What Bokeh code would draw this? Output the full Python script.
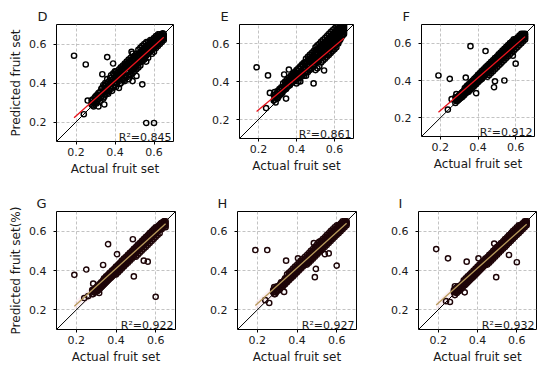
from bokeh.plotting import figure
from bokeh.layouts import row, column
from bokeh.models import Range1d, FixedTicker, Label, ColumnDataSource
from bokeh.embed import file_html
from bokeh.resources import INLINE

# ---------------- data ----------------
# actual fruit set (shared by all six panels)
actual = [
    0.28, 0.28, 0.29, 0.29, 0.30, 0.30, 0.31, 0.31, 0.32, 0.32, 0.33, 0.33,
    0.34, 0.34, 0.34, 0.35, 0.35, 0.35, 0.36, 0.36, 0.36, 0.37, 0.37, 0.37, 0.38, 0.38, 0.38, 0.39, 0.39, 0.39,
    0.40, 0.40, 0.40, 0.41, 0.41, 0.41, 0.42, 0.42, 0.42, 0.43, 0.43, 0.43, 0.44, 0.44, 0.44,
    0.45, 0.45, 0.45, 0.45, 0.46, 0.46, 0.46, 0.46, 0.47, 0.47, 0.47, 0.47, 0.48, 0.48, 0.48, 0.48,
    0.49, 0.49, 0.49, 0.49, 0.50, 0.50, 0.50, 0.50, 0.51, 0.51, 0.51, 0.51, 0.52, 0.52, 0.52, 0.52,
    0.53, 0.53, 0.53, 0.53, 0.54, 0.54, 0.54, 0.54, 0.55, 0.55, 0.55, 0.55, 0.56, 0.56, 0.56, 0.56,
    0.57, 0.57, 0.57, 0.57, 0.58, 0.58, 0.58, 0.58, 0.59, 0.59, 0.59, 0.59, 0.60, 0.60, 0.60, 0.60,
    0.61, 0.61, 0.61, 0.61, 0.62, 0.62, 0.62, 0.62, 0.63, 0.63, 0.63, 0.63, 0.64, 0.64, 0.64, 0.64,
    0.65, 0.65, 0.65, 0.65,
    0.19, 0.25, 0.24, 0.26, 0.285, 0.315, 0.335, 0.345, 0.36, 0.39, 0.405, 0.42,
    0.44, 0.465, 0.485, 0.49, 0.495, 0.51, 0.54, 0.545, 0.56, 0.585, 0.60, 0.555,
    0.285, 0.285, 0.295, 0.295, 0.305, 0.305, 0.315, 0.315, 0.325, 0.325, 0.335, 0.335,
    0.345, 0.345, 0.355, 0.355, 0.365, 0.365, 0.375, 0.375, 0.385, 0.385, 0.395, 0.395,
    0.405, 0.405, 0.415, 0.415, 0.425, 0.425, 0.435, 0.435, 0.445, 0.445, 0.455, 0.455,
    0.465, 0.465, 0.475, 0.475, 0.485, 0.485, 0.495, 0.495, 0.505, 0.505, 0.515, 0.515,
    0.525, 0.525, 0.535, 0.535, 0.545, 0.545, 0.555, 0.555, 0.565, 0.565, 0.575, 0.575,
    0.585, 0.585, 0.595, 0.595, 0.605, 0.605, 0.615, 0.615, 0.625, 0.625, 0.635, 0.635,
    0.645, 0.645,
]

pred_D = [
    0.29, 0.31, 0.30, 0.28, 0.33, 0.30, 0.31, 0.34, 0.35, 0.32, 0.33, 0.37,
    0.32, 0.36, 0.39, 0.40, 0.34, 0.37, 0.35, 0.38, 0.42, 0.41, 0.36, 0.39, 0.37, 0.44, 0.40, 0.42, 0.38, 0.45,
    0.39, 0.43, 0.46, 0.45, 0.40, 0.42, 0.41, 0.47, 0.44, 0.43, 0.40, 0.48, 0.46, 0.42, 0.49,
    0.41, 0.44, 0.47, 0.50, 0.49, 0.43, 0.46, 0.51, 0.44, 0.48, 0.42, 0.52, 0.47, 0.50, 0.44, 0.53,
    0.45, 0.52, 0.48, 0.55, 0.50, 0.46, 0.54, 0.52, 0.47, 0.51, 0.55, 0.49, 0.53, 0.48, 0.57, 0.50,
    0.49, 0.55, 0.52, 0.58, 0.56, 0.51, 0.54, 0.59, 0.52, 0.58, 0.55, 0.60, 0.54, 0.57, 0.51, 0.61,
    0.59, 0.55, 0.61, 0.53, 0.56, 0.60, 0.58, 0.62, 0.62, 0.57, 0.59, 0.55, 0.58, 0.63, 0.60, 0.56,
    0.60, 0.62, 0.58, 0.64, 0.61, 0.63, 0.59, 0.65, 0.62, 0.64, 0.60, 0.65, 0.63, 0.65, 0.61, 0.64,
    0.64, 0.62, 0.65, 0.63,
    0.54, 0.495, 0.24, 0.31, 0.30, 0.28, 0.445, 0.29, 0.533, 0.50, 0.46, 0.375,
    0.42, 0.487, 0.56, 0.41, 0.47, 0.436, 0.393, 0.53, 0.195, 0.58, 0.195, 0.56,
    0.285, 0.315, 0.305, 0.325, 0.295, 0.335, 0.32, 0.35, 0.31, 0.355, 0.345, 0.375,
    0.33, 0.385, 0.36, 0.395, 0.345, 0.405, 0.375, 0.425, 0.36, 0.415, 0.40, 0.44,
    0.38, 0.435, 0.415, 0.455, 0.395, 0.46, 0.425, 0.47, 0.415, 0.48, 0.435, 0.495,
    0.455, 0.50, 0.445, 0.51, 0.465, 0.52, 0.475, 0.53, 0.485, 0.535, 0.50, 0.54,
    0.505, 0.555, 0.515, 0.565, 0.525, 0.57, 0.535, 0.585, 0.55, 0.59, 0.56, 0.60,
    0.57, 0.61, 0.575, 0.615, 0.59, 0.625, 0.595, 0.63, 0.61, 0.64, 0.62, 0.645,
    0.63, 0.655,
]

pred_E = [
    0.30, 0.33, 0.32, 0.29, 0.35, 0.31, 0.33, 0.36, 0.37, 0.34, 0.35, 0.39,
    0.36, 0.40, 0.38, 0.41, 0.37, 0.39, 0.38, 0.42, 0.40, 0.43, 0.39, 0.41, 0.40, 0.44, 0.42, 0.45, 0.41, 0.43,
    0.42, 0.46, 0.39, 0.47, 0.43, 0.40, 0.44, 0.48, 0.42, 0.49, 0.45, 0.43, 0.46, 0.50, 0.43,
    0.43, 0.47, 0.50, 0.52, 0.51, 0.45, 0.48, 0.53, 0.46, 0.50, 0.54, 0.48, 0.52, 0.47, 0.55, 0.50,
    0.48, 0.53, 0.56, 0.51, 0.55, 0.46, 0.51, 0.58, 0.47, 0.54, 0.59, 0.51, 0.56, 0.48, 0.60, 0.53,
    0.50, 0.57, 0.61, 0.54, 0.58, 0.51, 0.62, 0.55, 0.52, 0.59, 0.63, 0.56, 0.60, 0.53, 0.64, 0.57,
    0.54, 0.61, 0.65, 0.58, 0.62, 0.55, 0.66, 0.59, 0.56, 0.63, 0.67, 0.60, 0.64, 0.57, 0.68, 0.61,
    0.58, 0.65, 0.69, 0.62, 0.66, 0.60, 0.69, 0.63, 0.62, 0.67, 0.70, 0.65, 0.68, 0.64, 0.70, 0.66,
    0.67, 0.69, 0.65, 0.70,
    0.475, 0.432, 0.26, 0.34, 0.344, 0.33, 0.437, 0.31, 0.463, 0.42, 0.44, 0.40,
    0.47, 0.48, 0.50, 0.39, 0.52, 0.50, 0.55, 0.458, 0.58, 0.60, 0.62, 0.54,
    0.305, 0.32, 0.315, 0.335, 0.32, 0.345, 0.335, 0.355, 0.34, 0.365, 0.355, 0.375,
    0.36, 0.39, 0.375, 0.40, 0.38, 0.41, 0.395, 0.425, 0.40, 0.435, 0.41, 0.445,
    0.415, 0.455, 0.425, 0.465, 0.43, 0.475, 0.44, 0.485, 0.445, 0.495, 0.455, 0.505,
    0.465, 0.515, 0.47, 0.525, 0.485, 0.535, 0.49, 0.545, 0.50, 0.555, 0.505, 0.565,
    0.52, 0.575, 0.525, 0.585, 0.535, 0.595, 0.545, 0.605, 0.55, 0.615, 0.565, 0.625,
    0.57, 0.635, 0.585, 0.645, 0.59, 0.655, 0.605, 0.665, 0.615, 0.675, 0.63, 0.685,
    0.645, 0.69,
]

pred_F = [
    0.28, 0.31, 0.30, 0.29, 0.32, 0.30, 0.31, 0.33, 0.34, 0.32, 0.33, 0.36,
    0.34, 0.37, 0.35, 0.38, 0.34, 0.36, 0.35, 0.39, 0.37, 0.40, 0.36, 0.38, 0.37, 0.41, 0.39, 0.42, 0.38, 0.40,
    0.39, 0.43, 0.41, 0.44, 0.40, 0.42, 0.41, 0.45, 0.43, 0.46, 0.42, 0.44, 0.43, 0.47, 0.45,
    0.42, 0.45, 0.48, 0.44, 0.47, 0.43, 0.49, 0.45, 0.44, 0.48, 0.50, 0.46, 0.49, 0.45, 0.51, 0.47,
    0.46, 0.50, 0.52, 0.48, 0.51, 0.47, 0.53, 0.49, 0.48, 0.52, 0.54, 0.50, 0.53, 0.49, 0.55, 0.51,
    0.50, 0.54, 0.56, 0.52, 0.55, 0.51, 0.57, 0.53, 0.52, 0.56, 0.58, 0.54, 0.57, 0.53, 0.59, 0.55,
    0.54, 0.58, 0.60, 0.56, 0.59, 0.55, 0.61, 0.57, 0.56, 0.60, 0.62, 0.58, 0.61, 0.57, 0.62, 0.59,
    0.58, 0.62, 0.63, 0.60, 0.63, 0.59, 0.64, 0.61, 0.60, 0.64, 0.65, 0.62, 0.65, 0.61, 0.64, 0.63,
    0.62, 0.65, 0.64, 0.63,
    0.427, 0.409, 0.244, 0.30, 0.327, 0.32, 0.416, 0.368, 0.584, 0.332, 0.43, 0.41,
    0.558, 0.47, 0.364, 0.396, 0.49, 0.50, 0.40, 0.55, 0.55, 0.533, 0.49, 0.56,
    0.29, 0.30, 0.295, 0.315, 0.305, 0.325, 0.31, 0.335, 0.32, 0.345, 0.33, 0.355,
    0.34, 0.365, 0.35, 0.375, 0.36, 0.385, 0.37, 0.395, 0.38, 0.405, 0.39, 0.415,
    0.40, 0.425, 0.41, 0.435, 0.42, 0.445, 0.43, 0.455, 0.44, 0.465, 0.445, 0.475,
    0.455, 0.485, 0.465, 0.495, 0.475, 0.505, 0.485, 0.515, 0.495, 0.525, 0.505, 0.535,
    0.515, 0.545, 0.525, 0.555, 0.535, 0.565, 0.545, 0.575, 0.555, 0.585, 0.565, 0.595,
    0.575, 0.605, 0.585, 0.61, 0.595, 0.62, 0.605, 0.625, 0.615, 0.635, 0.62, 0.64,
    0.63, 0.645,
]

pred_G = [
    0.28, 0.30, 0.30, 0.29, 0.31, 0.30, 0.30, 0.32, 0.33, 0.31, 0.32, 0.34,
    0.33, 0.36, 0.35, 0.37, 0.34, 0.35, 0.35, 0.38, 0.36, 0.39, 0.36, 0.37, 0.37, 0.40, 0.38, 0.41, 0.38, 0.39,
    0.38, 0.42, 0.40, 0.43, 0.39, 0.41, 0.40, 0.44, 0.42, 0.45, 0.41, 0.43, 0.42, 0.46, 0.44,
    0.43, 0.45, 0.47, 0.44, 0.46, 0.44, 0.48, 0.45, 0.45, 0.47, 0.49, 0.46, 0.48, 0.46, 0.50, 0.47,
    0.47, 0.49, 0.51, 0.48, 0.50, 0.47, 0.52, 0.49, 0.48, 0.51, 0.53, 0.50, 0.52, 0.49, 0.54, 0.51,
    0.50, 0.53, 0.55, 0.52, 0.54, 0.51, 0.56, 0.53, 0.52, 0.55, 0.57, 0.54, 0.56, 0.53, 0.58, 0.55,
    0.54, 0.57, 0.59, 0.56, 0.58, 0.55, 0.60, 0.57, 0.56, 0.59, 0.61, 0.58, 0.60, 0.57, 0.62, 0.59,
    0.58, 0.61, 0.62, 0.60, 0.62, 0.59, 0.63, 0.61, 0.61, 0.63, 0.64, 0.62, 0.63, 0.62, 0.65, 0.64,
    0.64, 0.63, 0.65, 0.62,
    0.378, 0.405, 0.26, 0.27, 0.333, 0.286, 0.428, 0.34, 0.534, 0.39, 0.483, 0.42,
    0.44, 0.47, 0.559, 0.37, 0.49, 0.51, 0.45, 0.54, 0.445, 0.58, 0.266, 0.55,
    0.28, 0.30, 0.29, 0.31, 0.295, 0.32, 0.305, 0.33, 0.315, 0.34, 0.325, 0.35,
    0.335, 0.36, 0.345, 0.37, 0.355, 0.38, 0.365, 0.39, 0.375, 0.40, 0.385, 0.41,
    0.395, 0.42, 0.405, 0.43, 0.415, 0.44, 0.425, 0.45, 0.435, 0.46, 0.445, 0.47,
    0.455, 0.48, 0.465, 0.49, 0.475, 0.50, 0.485, 0.51, 0.495, 0.52, 0.505, 0.53,
    0.515, 0.54, 0.525, 0.55, 0.535, 0.56, 0.545, 0.57, 0.555, 0.58, 0.565, 0.59,
    0.575, 0.60, 0.585, 0.61, 0.595, 0.62, 0.605, 0.63, 0.615, 0.64, 0.625, 0.645,
    0.635, 0.65,
]

pred_H = [
    0.29, 0.30, 0.28, 0.31, 0.30, 0.32, 0.31, 0.30, 0.32, 0.34, 0.34, 0.32,
    0.35, 0.33, 0.36, 0.34, 0.36, 0.38, 0.37, 0.35, 0.39, 0.36, 0.38, 0.40, 0.39, 0.37, 0.41, 0.38, 0.40, 0.42,
    0.41, 0.39, 0.43, 0.40, 0.42, 0.44, 0.43, 0.41, 0.45, 0.42, 0.44, 0.46, 0.45, 0.43, 0.47,
    0.44, 0.46, 0.43, 0.48, 0.47, 0.45, 0.49, 0.44, 0.46, 0.48, 0.45, 0.50, 0.49, 0.47, 0.51, 0.46,
    0.48, 0.50, 0.47, 0.52, 0.51, 0.49, 0.53, 0.48, 0.50, 0.52, 0.49, 0.54, 0.53, 0.51, 0.55, 0.50,
    0.52, 0.54, 0.51, 0.56, 0.55, 0.53, 0.57, 0.52, 0.54, 0.56, 0.53, 0.58, 0.57, 0.55, 0.59, 0.54,
    0.56, 0.58, 0.55, 0.60, 0.59, 0.57, 0.61, 0.56, 0.58, 0.60, 0.57, 0.62, 0.61, 0.59, 0.63, 0.58,
    0.60, 0.62, 0.59, 0.63, 0.62, 0.61, 0.64, 0.60, 0.63, 0.62, 0.65, 0.61, 0.64, 0.63, 0.65, 0.62,
    0.65, 0.64, 0.63, 0.64,
    0.504, 0.504, 0.249, 0.235, 0.316, 0.31, 0.291, 0.45, 0.36, 0.39, 0.462, 0.42,
    0.44, 0.47, 0.539, 0.366, 0.408, 0.546, 0.483, 0.545, 0.487, 0.58, 0.425, 0.55,
    0.28, 0.30, 0.29, 0.31, 0.30, 0.32, 0.31, 0.33, 0.32, 0.34, 0.33, 0.35,
    0.34, 0.36, 0.35, 0.37, 0.36, 0.38, 0.37, 0.39, 0.38, 0.40, 0.39, 0.41,
    0.40, 0.42, 0.41, 0.43, 0.42, 0.44, 0.43, 0.45, 0.44, 0.46, 0.45, 0.47,
    0.46, 0.48, 0.47, 0.49, 0.48, 0.50, 0.49, 0.51, 0.50, 0.52, 0.51, 0.53,
    0.52, 0.54, 0.53, 0.55, 0.54, 0.56, 0.55, 0.57, 0.56, 0.58, 0.57, 0.59,
    0.58, 0.60, 0.59, 0.61, 0.60, 0.62, 0.61, 0.63, 0.62, 0.64, 0.63, 0.645,
    0.64, 0.65,
]

pred_I = [
    0.30, 0.29, 0.31, 0.29, 0.30, 0.32, 0.32, 0.30, 0.31, 0.33, 0.33, 0.35,
    0.36, 0.34, 0.33, 0.35, 0.37, 0.34, 0.38, 0.36, 0.35, 0.37, 0.39, 0.36, 0.40, 0.38, 0.37, 0.39, 0.41, 0.38,
    0.42, 0.40, 0.39, 0.41, 0.43, 0.40, 0.44, 0.42, 0.41, 0.43, 0.45, 0.42, 0.46, 0.44, 0.43,
    0.45, 0.47, 0.44, 0.43, 0.48, 0.46, 0.45, 0.44, 0.47, 0.49, 0.46, 0.45, 0.50, 0.48, 0.47, 0.46,
    0.49, 0.51, 0.48, 0.47, 0.52, 0.50, 0.49, 0.48, 0.51, 0.53, 0.50, 0.49, 0.54, 0.52, 0.51, 0.50,
    0.53, 0.55, 0.52, 0.51, 0.56, 0.54, 0.53, 0.52, 0.55, 0.57, 0.54, 0.53, 0.58, 0.56, 0.55, 0.54,
    0.57, 0.59, 0.56, 0.55, 0.60, 0.58, 0.57, 0.56, 0.59, 0.61, 0.58, 0.57, 0.62, 0.60, 0.59, 0.58,
    0.61, 0.63, 0.60, 0.59, 0.63, 0.62, 0.61, 0.60, 0.64, 0.62, 0.63, 0.61, 0.65, 0.63, 0.64, 0.62,
    0.64, 0.65, 0.63, 0.65,
    0.509, 0.462, 0.244, 0.24, 0.32, 0.31, 0.289, 0.445, 0.36, 0.39, 0.462, 0.42,
    0.44, 0.47, 0.537, 0.49, 0.366, 0.51, 0.54, 0.545, 0.479, 0.58, 0.442, 0.55,
    0.275, 0.295, 0.285, 0.305, 0.295, 0.315, 0.305, 0.325, 0.315, 0.335, 0.325, 0.345,
    0.335, 0.355, 0.345, 0.365, 0.355, 0.375, 0.365, 0.385, 0.375, 0.395, 0.385, 0.405,
    0.395, 0.415, 0.405, 0.425, 0.415, 0.435, 0.425, 0.445, 0.435, 0.455, 0.445, 0.465,
    0.455, 0.475, 0.465, 0.485, 0.475, 0.495, 0.485, 0.505, 0.495, 0.515, 0.505, 0.525,
    0.515, 0.535, 0.525, 0.545, 0.535, 0.555, 0.545, 0.565, 0.555, 0.575, 0.565, 0.585,
    0.575, 0.595, 0.585, 0.605, 0.595, 0.615, 0.605, 0.625, 0.615, 0.635, 0.625, 0.64,
    0.63, 0.65,
]

# further points inside the dense black cores of D and E
core_D_x = [0.40, 0.40, 0.42, 0.42, 0.44, 0.44, 0.46, 0.46, 0.48, 0.48, 0.50, 0.50,
            0.52, 0.52, 0.54, 0.54, 0.56, 0.56, 0.58, 0.58, 0.60, 0.60, 0.62, 0.62]
core_D_y = [0.405, 0.43, 0.425, 0.45, 0.445, 0.47, 0.455, 0.485, 0.48, 0.51, 0.495, 0.525,
            0.515, 0.545, 0.535, 0.565, 0.555, 0.585, 0.575, 0.605, 0.595, 0.62, 0.615, 0.635]
core_E_x = [0.50, 0.50, 0.51, 0.51, 0.52, 0.52, 0.53, 0.53, 0.54, 0.54, 0.55, 0.55,
            0.56, 0.56, 0.57, 0.57, 0.58, 0.58, 0.59, 0.59, 0.60, 0.60, 0.61, 0.61,
            0.62, 0.62, 0.63, 0.63, 0.64, 0.64, 0.65, 0.65]
core_E_y = [0.50, 0.565, 0.515, 0.57, 0.52, 0.58, 0.535, 0.59, 0.54, 0.60, 0.555, 0.61,
            0.565, 0.62, 0.575, 0.63, 0.585, 0.64, 0.595, 0.65, 0.605, 0.66, 0.615, 0.67,
            0.625, 0.675, 0.635, 0.68, 0.66, 0.69, 0.66, 0.68]

# fitted regression lines (end points)
fit_x = [0.19, 0.65]
fit_D = [0.222, 0.635]
fit_E = [0.242, 0.628]
fit_F = [0.230, 0.635]
fit_G = [0.218, 0.638]
fit_H = [0.222, 0.640]
fit_I = [0.225, 0.635]

# 1:1 reference line
diag = [0.1, 0.7]

# faint pink band seen in G-I
band_x = [0.19, 0.30, 0.45, 0.60, 0.66]
band_lo = [0.20, 0.27, 0.41, 0.56, 0.61]
band_hi = [0.24, 0.34, 0.49, 0.64, 0.67]

ticks = [0.2, 0.4, 0.6]
letters = ["D", "E", "F", "G", "H", "I"]
r2_text = ["R\u00b2=0.845", "R\u00b2=0.861", "R\u00b2=0.912",
           "R\u00b2=0.922", "R\u00b2=0.927", "R\u00b2=0.932"]
ylabels = ["Predicted fruit set", None, None, "Predicted fruit set(%)", None, None]
xlabel = "Actual fruit set"

preds = [pred_D, pred_E, pred_F, pred_G, pred_H, pred_I]
fits = [fit_D, fit_E, fit_F, fit_G, fit_H, fit_I]
extra_pts = {0: (core_D_x, core_D_y), 1: (core_E_x, core_E_y)}

for k, pr in enumerate(preds):
    if len(pr) != len(actual):
        raise ValueError("panel %d length mismatch %d vs %d" % (k, len(pr), len(actual)))

# geometry: frame_w, frame_h, left, right, top, bottom
# (the page itself shows no body margin, so the 8px offset is built into the borders)
geom = [
    (117, 117, 56, 30, 21, 55),
    (114, 114, 36, 32, 23, 56),
    (113, 112, 36, 8, 24, 57),
    (119, 118, 56, 26, 12, 38),
    (119, 118, 36, 26, 12, 38),
    (118, 118, 36, 6, 12, 38),
]

FONT = "DejaVu Sans"
TXT = "#1a1a1a"


def make_panel(i):
    fw, fh, l, r, t, b = geom[i]
    p = figure(frame_width=fw, frame_height=fh,
               min_border_left=l, min_border_right=r,
               min_border_top=t, min_border_bottom=b,
               x_range=Range1d(0.1, 0.7), y_range=Range1d(0.1, 0.7),
               output_backend="svg", toolbar_location=None,
               background_fill_color="white", border_fill_color="white")
    p.outline_line_color = "black"
    p.outline_line_width = 1
    # panel letter as a left-aligned title shifted left of the frame
    p.title.text = letters[i]
    p.title.align = "left"
    p.title.offset = -19 if i < 3 else -20
    p.title.standoff = 1
    p.title.text_font = FONT
    p.title.text_font_size = "13px"
    p.title.text_font_style = "normal"
    p.title.text_color = TXT
    for ax in (p.xaxis[0], p.yaxis[0]):
        ax.ticker = FixedTicker(ticks=ticks)
        ax.axis_line_color = None
        ax.major_tick_line_color = "black"
        ax.major_tick_in = 0
        ax.major_tick_out = 3
        ax.minor_tick_line_color = None
        ax.major_label_text_font = FONT
        ax.major_label_text_font_size = "11px"
        ax.major_label_text_color = TXT
        ax.axis_label_text_font = FONT
        ax.axis_label_text_font_size = "12px"
        ax.axis_label_text_font_style = "normal"
        ax.axis_label_text_color = TXT
    p.xaxis.major_label_standoff = 3
    p.xaxis.axis_label = xlabel
    p.xaxis.axis_label_standoff = 3
    p.yaxis.major_label_standoff = 7
    if ylabels[i]:
        p.yaxis.axis_label = ylabels[i]
        p.yaxis.axis_label_standoff = 3
    for g in (p.xgrid[0], p.ygrid[0]):
        g.ticker = FixedTicker(ticks=ticks)
        g.grid_line_color = "#b4b4b4"
        g.grid_line_dash = "3 2"
        g.grid_line_width = 0.8

    lower = i >= 3
    pt_color = "#1e0508" if lower else "black"
    if lower:
        p.varea(x=band_x, y1=band_lo, y2=band_hi, fill_color="#f7d3de", fill_alpha=0.35)
    p.line(diag, diag, line_color="black", line_width=1)
    src = ColumnDataSource(dict(x=actual, y=preds[i]))
    p.scatter("x", "y", source=src, marker="circle", size=5.2,
              fill_color=None, line_color=pt_color, line_width=1.45)
    if i in extra_pts:
        ex, ey = extra_pts[i]
        p.scatter(ex, ey, marker="circle", size=5.2,
                  fill_color=None, line_color=pt_color, line_width=1.45)
    p.line(fit_x, fits[i], line_color="#b89a5c" if lower else "#e8141c",
           line_width=1.3)

    p.add_layout(Label(x=0.7, y=0.1, x_offset=-2, y_offset=4, text=r2_text[i],
                       text_align="right", text_baseline="alphabetic",
                       text_font=FONT, text_font_size="11px", text_color=TXT))
    return p


panels = [make_panel(i) for i in range(6)]
layout = column(row(panels[0], panels[1], panels[2]),
                row(panels[3], panels[4], panels[5]))

open("out.html", "w").write(file_html(layout, INLINE))
